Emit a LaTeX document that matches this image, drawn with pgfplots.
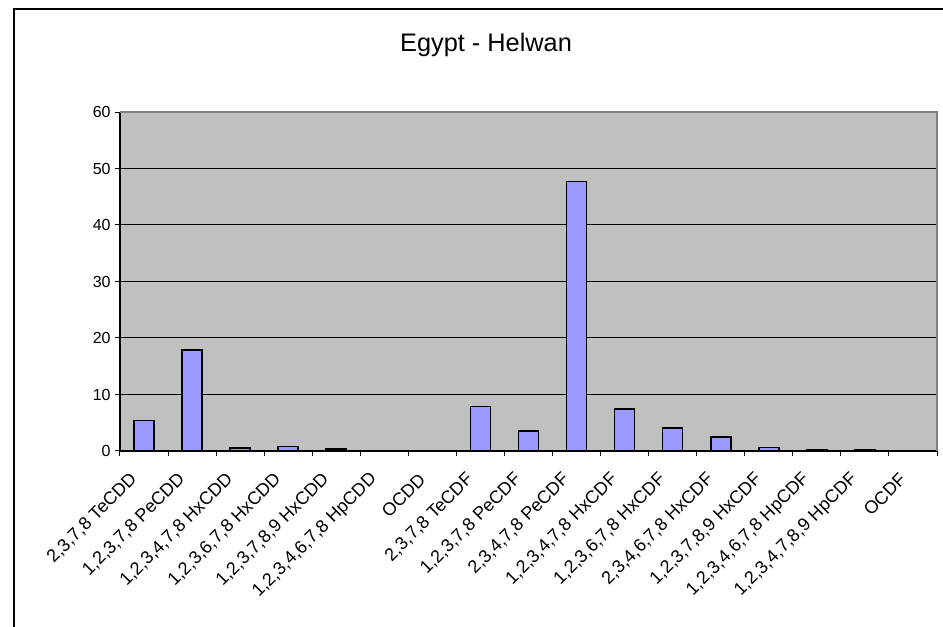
\documentclass[border=0pt]{standalone}
\usepackage{fontspec}
\setmainfont{Liberation Sans}
\usepackage{pgfplots}
\pgfplotsset{compat=1.18}

\definecolor{plotbg}{HTML}{C0C0C0}
\definecolor{barfill}{HTML}{9999FF}
\definecolor{frameg}{HTML}{808080}

\begin{document}
\begin{tikzpicture}
\useasboundingbox (0,0) rectangle (707.25pt,470.25pt);
\clip (0,0) rectangle (707.25pt,470.25pt);
% chart frame
\draw[black, line width=1pt] (10.5pt,-5pt) -- (10.5pt,463.5pt) -- (720pt,463.5pt);
% title
\node[anchor=base, font=\fontsize{19}{22}\selectfont, inner sep=0pt] at (364.5pt,431.5pt) {Egypt - Helwan};
\begin{axis}[
  at={(90pt,132pt)}, anchor=south west,
  scale only axis,
  width=612.75pt, height=254.25pt,
  xmin=-0.5, xmax=16.5,
  ymin=0, ymax=60,
  ytick={0,10,...,60},
  xtick={-0.5,0.5,...,16.5},
  xticklabels={},
  axis x line*=bottom,
  axis y line*=left,
  axis line style={black, line width=0.9pt},
  tick align=outside,
  major tick length=3.5pt,
  tick style={black, line width=0.75pt},
  ymajorgrids,
  major grid style={black, line width=0.75pt},
  axis background/.style={fill=plotbg},
  /pgf/number format/assume math mode=true,
  yticklabel style={font=\fontsize{12}{14}\selectfont},
  extra x ticks={0,1,...,16},
  extra x tick labels={{2,3,7,8 TeCDD},{1,2,3,7,8 PeCDD},{1,2,3,4,7,8 HxCDD},{1,2,3,6,7,8 HxCDD},{1,2,3,7,8,9 HxCDD},{1,2,3,4,6,7,8 HpCDD},{OCDD},{2,3,7,8 TeCDF},{1,2,3,7,8 PeCDF},{2,3,4,7,8 PeCDF},{1,2,3,4,7,8 HxCDF},{1,2,3,6,7,8 HxCDF},{2,3,4,6,7,8 HxCDF},{1,2,3,7,8,9 HxCDF},{1,2,3,4,6,7,8 HpCDF},{1,2,3,4,7,8,9 HpCDF},{OCDF}},
  extra x tick style={
    major tick length=0pt,
    xticklabel style={xshift=-7.5pt, yshift=-19pt, rotate=45, anchor=east, inner sep=0pt,
      font=\fontsize{13.5}{16}\selectfont},
  },
  ybar,
  bar width=15pt,
  clip=false,
]
\addplot[draw=black, line width=1.2pt, fill=barfill] coordinates {
  (0,5.4) (1,17.9) (2,0.5) (3,0.8) (4,0.35) (5,0.1) (6,0)
  (7,7.9) (8,3.55) (9,47.7) (10,7.4) (11,4.1) (12,2.5)
  (13,0.65) (14,0.15) (15,0.15) (16,0)
};
% grey border of the plot area (top and right)
\draw[frameg, line width=1.5pt] (rel axis cs:0,1) -- (rel axis cs:1,1) -- (rel axis cs:1,0);
\end{axis}
\end{tikzpicture}
\end{document}
